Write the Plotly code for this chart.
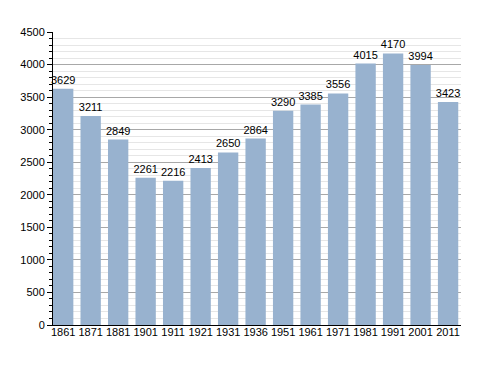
import plotly.graph_objects as go

years = ["1861", "1871", "1881", "1901", "1911", "1921", "1931", "1936", "1951",
         "1961", "1971", "1981", "1991", "2001", "2011"]
population = [3629, 3211, 2849, 2261, 2216, 2413, 2650, 2864, 3290,
              3385, 3556, 4015, 4170, 3994, 3423]

fig = go.Figure(go.Bar(
    x=years, y=population,
    marker=dict(color="#98b2cf", line=dict(width=0)),
    text=[str(v) for v in population], textposition="outside",
    textfont=dict(family="Liberation Sans, Arial", size=11, color="#000"),
    cliponaxis=False, constraintext="none",
))
fig.update_layout(
    width=488, height=373,
    margin=dict(l=43, r=35, t=24, b=56),
    paper_bgcolor="white", plot_bgcolor="white",
    bargap=0.26, showlegend=False,
    font=dict(family="Liberation Sans, Arial", size=11, color="#000"),
)
fig.update_yaxes(
    range=[0, 4500], dtick=500, tick0=0,
    showgrid=True, gridcolor="#a8a8a8", gridwidth=1,
    minor=dict(dtick=100, showgrid=True, gridcolor="#e6e6e6", ticks="outside",
               ticklen=3, tickcolor="#000"),
    ticks="outside", ticklen=5, tickcolor="#000",
    showline=True, linecolor="#000", linewidth=1,
    zeroline=False, tickfont=dict(size=11),
)
fig.update_xaxes(
    showline=True, linecolor="#000", linewidth=1, ticks="",
    tickfont=dict(size=11), type="category", ticklabelstandoff=-3,
    range=[-0.37, 14.47],
)
fig.write_html("out.html")
